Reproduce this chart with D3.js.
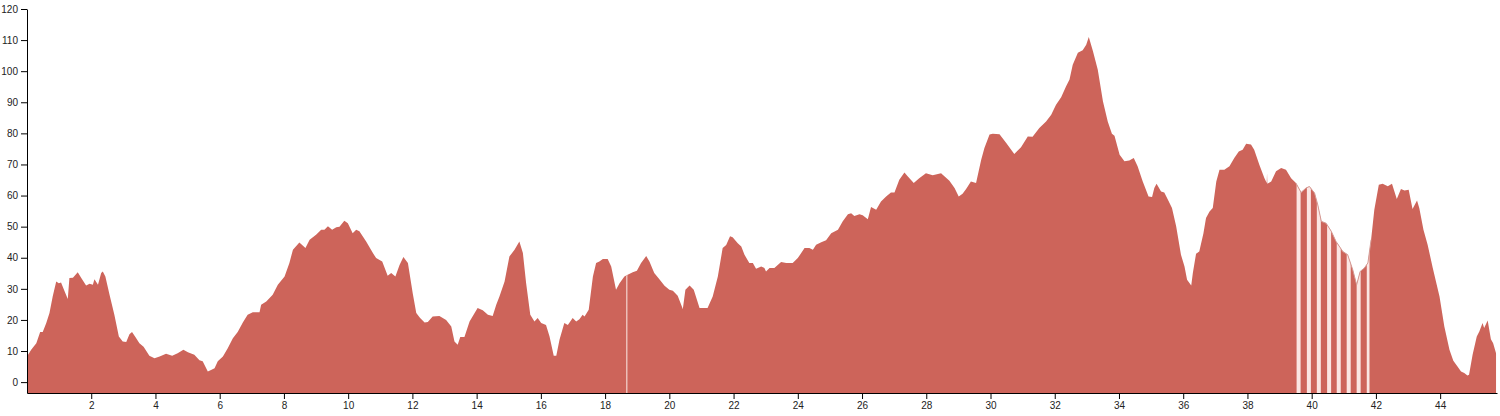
<!DOCTYPE html>
<html>
<head>
<meta charset="utf-8">
<script src="https://cdn.jsdelivr.net/npm/d3@7"></script>
<style>
  html, body { margin: 0; padding: 0; background: #fff; }
  svg { display: block; }
  .axis text { font: 10px Arial, "Liberation Sans", sans-serif; fill: #222; }
</style>
</head>
<body>
<svg id="chart" width="1500" height="416"></svg>
<script>
const distance = [0,0.13,0.29,0.41,0.49,0.60,0.70,0.80,0.91,0.99,1.06,1.17,1.27,1.32,1.43,1.58,1.69,1.84,1.95,2.05,2.10,2.21,2.31,2.36,2.44,2.57,2.72,2.86,2.98,3.09,3.19,3.27,3.40,3.50,3.63,3.81,3.97,4.13,4.33,4.52,4.69,4.87,5.01,5.21,5.37,5.47,5.63,5.73,5.84,5.94,6.10,6.25,6.41,6.56,6.72,6.87,7.03,7.24,7.29,7.45,7.65,7.81,8.02,8.17,8.28,8.48,8.67,8.80,9.00,9.16,9.26,9.37,9.50,9.63,9.73,9.88,9.99,10.14,10.25,10.35,10.56,10.77,10.87,11.06,11.23,11.34,11.47,11.60,11.72,11.86,12.01,12.12,12.24,12.38,12.48,12.63,12.84,13.05,13.21,13.31,13.41,13.49,13.62,13.78,14.03,14.19,14.35,14.50,14.61,14.71,14.87,15.02,15.18,15.33,15.44,15.54,15.67,15.80,15.90,16.01,16.16,16.27,16.40,16.48,16.58,16.73,16.84,16.99,17.10,17.20,17.30,17.36,17.49,17.62,17.72,17.82,17.93,18.08,18.19,18.34,18.45,18.60,18.67,18.86,18.99,19.12,19.28,19.38,19.53,19.69,19.85,20.00,20.11,20.26,20.42,20.50,20.63,20.76,20.94,21.06,21.19,21.35,21.51,21.66,21.77,21.89,21.97,22.13,22.24,22.34,22.49,22.60,22.70,22.86,22.96,23.01,23.12,23.27,23.48,23.64,23.84,24.00,24.21,24.36,24.47,24.57,24.73,24.88,25.04,25.25,25.40,25.56,25.66,25.76,25.92,26.02,26.18,26.28,26.44,26.59,26.75,26.90,27.01,27.16,27.32,27.42,27.61,27.78,27.99,28.20,28.46,28.72,28.88,29.01,29.13,29.24,29.39,29.55,29.71,29.81,29.97,30.07,30.28,30.49,30.74,30.95,31.16,31.31,31.52,31.73,31.89,32.04,32.20,32.35,32.46,32.56,32.72,32.87,32.98,33.06,33.19,33.34,33.50,33.65,33.78,33.86,34.02,34.17,34.32,34.46,34.58,34.74,34.92,35.03,35.10,35.17,35.31,35.41,35.52,35.65,35.78,35.93,36.04,36.12,36.25,36.30,36.40,36.50,36.63,36.71,36.82,36.92,37.03,37.13,37.28,37.44,37.59,37.73,37.85,37.96,38.11,38.21,38.37,38.53,38.60,38.61,38.62,38.74,38.89,39.05,39.20,39.36,39.51,39.67,39.82,39.93,40.09,40.19,40.30,40.45,40.61,40.76,40.97,41.12,41.28,41.40,41.51,41.64,41.75,41.85,41.95,42.09,42.21,42.37,42.50,42.65,42.78,42.89,43.02,43.14,43.28,43.35,43.48,43.61,43.77,43.98,44.13,44.29,44.41,44.54,44.65,44.75,44.85,44.90,45.01,45.14,45.22,45.32,45.37,45.48,45.58,45.65,45.74];
const elevation = [8.2,10.4,12.5,16.1,16.1,19,22.2,27.5,32.4,31.8,32,29.2,26.7,33.5,33.6,35.3,33.5,31.1,31.6,31.3,33.1,31.3,35.1,35.6,34,28.1,21.7,14.7,13.1,12.9,15.4,16.1,14.1,12.5,11.4,8.5,7.7,8.2,9.1,8.5,9.3,10.4,9.6,8.8,7,6.7,3.4,3.9,4.5,6.7,8.2,10.9,14.1,16.1,19.2,21.7,22.5,22.5,24.9,25.9,28.1,31.3,34,38.3,42.6,44.9,43.1,45.8,47.4,49,49,50.1,49,49.8,50,51.9,51.1,47.9,49,48.5,45.2,41.5,39.9,38.8,34.2,35.1,34.0,37.7,40.2,38.3,28.6,22.2,20.6,19.2,19.3,21.1,21.3,20,17.9,13.1,12,14.5,14.5,19.5,23.8,23.1,21.7,21.3,24.9,27.5,32.4,40.4,42.6,45.2,41.5,31.9,21.7,19.5,20.6,19,18.4,14.7,8.5,8.5,13.6,19,18.4,20.6,19.5,20.2,21.7,21.1,23.3,34,38.3,38.8,39.6,39.6,37.2,29.7,31.8,34,34.4,35.3,35.8,38.3,40.6,38.8,35.1,33.1,31,29.7,29.4,27.8,23.5,29.7,31.1,29.7,23.8,23.8,23.8,27.5,34,43.1,44.1,46.9,46.6,44.7,43.6,41,38.3,38.3,36.5,37.2,36.7,35.6,36.7,36.7,38.6,38.3,38.3,39.9,43.1,43.1,42.6,44.2,45,45.6,47.9,49,51.7,54,54.3,53.4,54,53.7,52.4,56.3,55.4,58.1,59.7,61,61,65.1,67.4,66.2,64,65.6,67.2,66.5,67.2,64.8,62.4,59.7,60.6,62.1,64.5,64,71.5,75.3,79.6,79.9,79.7,76.9,73.4,75.5,79,78.9,81.7,83.8,86,89.2,91.6,95.1,97.3,102.1,105.9,106.7,108.5,111,106.4,100.5,90.3,83.8,79.9,79.2,73.1,71,71.3,72.1,69.4,64.5,59.7,59.5,62.4,63.8,61.3,61,58.7,56,50.1,41,37.2,32.9,31.1,35.1,41.3,42,47.9,52.8,54.9,56,64.5,68.3,68.3,69.4,72.1,74.2,74.7,76.7,76.4,74.7,69.9,65.6,64.0,67.2,63.8,64.5,67.8,68.9,68.3,65.6,64,61,62.4,62.9,60.8,57,51.7,51.1,48.5,45.2,42,41,36.1,31.3,35.6,36.7,38.3,45.8,55.4,63.5,63.8,63,63.8,58.9,62.1,61.6,61.9,55.7,58.4,56,49,44.2,36.7,27.5,17.9,10.4,6.9,5,3.4,2.9,2.1,2.4,8.8,14.7,16.3,19,17.4,19.8,13.8,12.5,9.3];

// gaps in the recorded track (km)
const gapStart = [18.655, 39.53, 39.85, 40.16, 40.48, 40.78, 41.09, 41.40, 41.715];
const gapEnd   = [18.695, 39.655, 39.975, 40.285, 40.605, 40.905, 41.215, 41.525, 41.80];
const traceFrom = 39.50, traceTo = 41.85;

const xTicks = [2,4,6,8,10,12,14,16,18,20,22,24,26,28,30,32,34,36,38,40,42,44];
const yTicks = [0,10,20,30,40,50,60,70,80,90,100,110,120];

const margin = {top: 9, left: 27, right: 3, bottom: 23};
const W = 1500, H = 416;
const iw = 1470, ih = 384;

const data = distance.map((d, i) => ({x: d, y: elevation[i]}));

const x = d3.scaleLinear().domain([0, 45.77]).range([0, iw]);
const y = d3.scaleLinear().domain([-3.5, 120]).range([ih, 0]);

const svg = d3.select("#chart");
const g = svg.append("g").attr("transform", `translate(${margin.left},${margin.top})`);

const area = d3.area().x(d => x(d.x)).y0(y(-3.5)).y1(d => y(d.y)).curve(d3.curveLinear);

svg.append("defs").append("clipPath").attr("id", "areaClip")
  .append("path").attr("d", area(data));

g.append("path").attr("d", area(data)).attr("fill", "#cd645a");

const gaps = gapStart.map((s, i) => ({s, e: gapEnd[i]}));
g.append("g").attr("clip-path", "url(#areaClip)")
  .selectAll("rect").data(gaps).join("rect")
  .attr("x", d => x(d.s)).attr("width", d => x(d.e) - x(d.s))
  .attr("y", 0).attr("height", ih)
  .attr("fill", (d, i) => i === 0 ? "#f2cdc7" : "#fbe6e3");

const line = d3.line().x(d => x(d.x)).y(d => y(d.y));
g.append("path")
  .attr("d", line(data.filter(d => d.x >= traceFrom && d.x <= traceTo)))
  .attr("fill", "none").attr("stroke", "#d49a94").attr("stroke-width", 1);

g.append("g").attr("class", "axis").attr("transform", `translate(0,${ih})`)
  .call(d3.axisBottom(x).tickValues(xTicks).tickSizeOuter(0).tickFormat(d3.format("d")));
g.append("g").attr("class", "axis")
  .call(d3.axisLeft(y).tickValues(yTicks).tickSizeOuter(0).tickFormat(d3.format("d")));
</script>
</body>
</html>
